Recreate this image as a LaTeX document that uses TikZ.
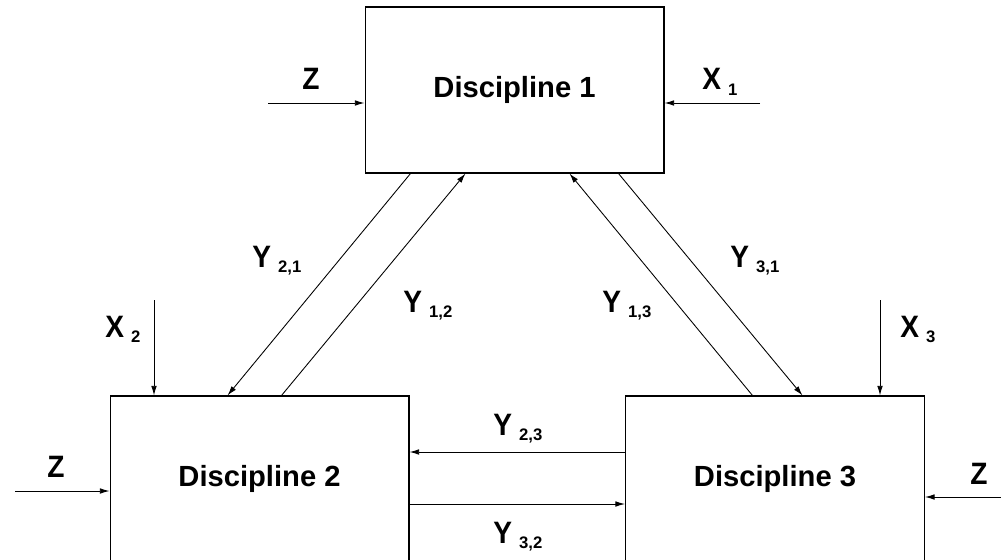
\documentclass[tikz,border=0pt]{standalone}
\usepackage{graphicx}
\usepackage{fontspec}
\setmainfont{Liberation Sans}
\usetikzlibrary{arrows.meta,positioning,calc}

% tall letter, and variable with a lowered index
\newcommand{\tall}[1]{\scalebox{1}[1.1]{#1}}
\newcommand{\varsub}[2]{\tall{#1}\hspace{4pt}\raisebox{-3pt}{\fontsize{9.5}{10}\selectfont\bfseries #2}}

\begin{document}
\begin{tikzpicture}[x=0.02cm, y=0.02cm, >={Latex[length=5.5pt,width=3.2pt]},
    disc/.style={draw, line width=0.6pt, minimum width=5.98cm, minimum height=3.32cm,
      inner sep=0pt, font=\fontsize{16.6}{18}\selectfont\bfseries},
    flow/.style={->, line width=0.5pt},
    lab/.style={anchor=base west, inner sep=0pt, font=\fontsize{16}{18}\selectfont\bfseries}]
  \clip (0,0) rectangle (1001,559);

  % Disciplines
  \node[disc] (d1) at (514.5,469) {Discipline 1};
  \node[disc] (d2) at (259.5,80) {Discipline 2};
  \node[disc] (d3) at (775,80) {Discipline 3};

  % Outside inputs
  \coordinate (z1) at (268,456);
  \coordinate (x1) at (760,456);
  \coordinate (z2) at (15,68);
  \coordinate (x2) at (154,259);
  \coordinate (x3) at (880,259);
  \coordinate (z3) at (1001,62);
  \draw[flow] (z1) -- (z1 -| d1.west);
  \draw[flow] (x1) -- (x1 -| d1.east);
  \draw[flow] (z2) -- (z2 -| d2.west);
  \draw[flow] (x2) -- (x2 |- d2.north);
  \draw[flow] (x3) -- (x3 |- d3.north);
  \draw[flow] (z3) -- (z3 -| d3.east);

  % Couplings
  \draw[flow] ($(d1.south west)+(46,0)$) -- ($(d2.north west)+(118,0)$);
  \draw[flow] ($(d2.north west)+(172,0)$) -- ($(d1.south west)+(101,0)$);
  \draw[flow] ($(d3.north west)+(127.5,0)$) -- ($(d1.south west)+(205,0)$);
  \draw[flow] ($(d1.south west)+(254,0)$) -- ($(d3.north west)+(177.5,0)$);
  \draw[flow] ($(d3.west)+(0,27)$) -- ($(d2.east)+(0,27)$);
  \draw[flow] ($(d2.east)+(0,-25)$) -- ($(d3.west)+(0,-25)$);

  % Labels
  \node[lab] (lz1) at (302,469) {\tall{Z}};
  \node[lab] (lx1) at (702,469) {\varsub{X}{1}};
  \node[lab] (lz2) at (47,82) {\tall{Z}};
  \node[lab] (lx2) at (105,222) {\varsub{X}{2}};
  \node[lab] (lx3) at (900,222) {\varsub{X}{3}};
  \node[lab] (lz3) at (970,75) {\tall{Z}};
  \node[lab] (ly21) at (252,292) {\varsub{Y}{2,1}};
  \node[lab] (ly12) at (403,247) {\varsub{Y}{1,2}};
  \node[lab] (ly31) at (730,292) {\varsub{Y}{3,1}};
  \node[lab] (ly13) at (602,247) {\varsub{Y}{1,3}};
  \node[lab] (ly23) at (493,124) {\varsub{Y}{2,3}};
  \node[lab] (ly32) at (493,16) {\varsub{Y}{3,2}};
\end{tikzpicture}
\end{document}
